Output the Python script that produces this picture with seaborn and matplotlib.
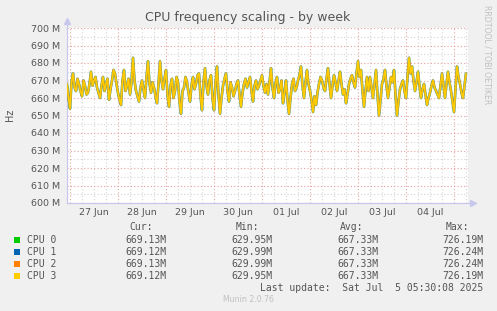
import matplotlib
matplotlib.use("Agg")
import matplotlib.pyplot as plt
import matplotlib.dates as mdates
from matplotlib.patches import Rectangle
from matplotlib.ticker import MultipleLocator
import pandas as pd
import seaborn as sns

sns.set_style("white")
plt.rcParams['font.family'] = ['DejaVu Sans']

# ---------------- data ----------------
title = "CPU frequency scaling - by week"
cpu_names = ["CPU 0", "CPU 1", "CPU 2", "CPU 3"]
cpu_colors = ["#00cc00", "#0066b3", "#ff8000", "#ffcc00"]
series_start = "2025-06-26 22:30"
series_end = "2025-07-05 06:00"
# CPU frequency in MHz (all four cores overlap)
freq_mhz = [
    668, 660, 654, 669, 674, 666, 664, 671, 668, 664, 661, 670, 667, 662, 663, 668,
    675, 667, 670, 672, 666, 663, 660, 667, 672, 664, 668, 671, 659, 665, 670, 676,
    674, 668, 663, 659, 656, 670, 676, 664, 667, 671, 662, 669, 683, 670, 664, 661,
    658, 666, 670, 665, 660, 672, 681, 668, 663, 669, 666, 661, 657, 668, 681, 670,
    665, 671, 676, 662, 655, 667, 671, 660, 664, 672, 669, 658, 651, 664, 666, 672,
    669, 663, 658, 667, 672, 665, 668, 673, 674, 661, 653, 669, 677, 667, 662, 670,
    673, 660, 653, 668, 678, 662, 651, 660, 667, 671, 674, 664, 658, 669, 666, 661,
    664, 668, 670, 662, 655, 663, 668, 671, 666, 669, 672, 664, 658, 667, 670, 665,
    667, 670, 673, 667, 663, 668,
    662, 669, 677, 666, 660, 668, 672, 663, 665, 670, 657, 663, 670, 659, 651, 660,
    668, 671, 664, 666, 670, 673, 678, 667, 660, 669, 676, 668, 664, 659, 652, 661,
    656, 663, 668, 672, 670, 666, 664, 671, 677, 668, 660, 667, 673, 669, 664, 670,
    675, 668, 662, 665, 657, 662, 668, 671, 673, 669, 666, 674, 681, 672, 676, 664,
    655, 664, 672, 664,
    672, 666, 660, 668, 676, 662, 650, 659, 668, 671, 676, 667, 660, 666, 672, 669,
    676, 662, 650, 658, 665, 668, 670, 664, 660, 672, 683, 674, 678, 670, 664, 669,
    675, 667, 660, 665, 668, 662, 656, 660, 663, 667, 670, 666, 664, 662, 660, 667,
    674, 667, 660, 668, 675, 669, 664, 658, 652, 665, 678, 672, 668, 663, 660, 667,
    674,
]
cur_vals = ["669.13M", "669.12M", "669.13M", "669.12M"]
min_vals = ["629.95M", "629.99M", "629.99M", "629.95M"]
avg_vals = ["667.33M", "667.33M", "667.33M", "667.33M"]
max_vals = ["726.19M", "726.24M", "726.24M", "726.19M"]
day_labels = ["27 Jun", "28 Jun", "29 Jun", "30 Jun", "01 Jul", "02 Jul", "03 Jul", "04 Jul"]
day_starts = ["2025-06-27", "2025-06-28", "2025-06-29", "2025-06-30",
              "2025-07-01", "2025-07-02", "2025-07-03", "2025-07-04", "2025-07-05"]
y_ticks = [600, 610, 620, 630, 640, 650, 660, 670, 680, 690, 700]
x_range = ["2025-06-26 22:30", "2025-07-05 07:00"]
last_update = "Last update:  Sat Jul  5 05:30:08 2025"
footer = "Munin 2.0.76"
side_text = "RRDTOOL / TOBI OETIKER"

# ---------------- figure ----------------
W, H = 497, 311
fig = plt.figure(figsize=(W / 100, H / 100), dpi=100, facecolor="#f0f0f0")

def fx(x):
    return x / W

def fy(y):
    return 1 - y / H

L, R, T, B = 67, 468, 28, 203
ax = fig.add_axes([fx(L), fy(B), (R - L) / W, (B - T) / H])
ax.set_facecolor("white")

times = pd.date_range(series_start, series_end, periods=len(freq_mhz))
frames = []
for name in cpu_names:
    frames.append(pd.DataFrame({"time": times, "value": freq_mhz, "cpu": name}))
df = pd.concat(frames, ignore_index=True)

widths = [1.9, 1.9, 1.6, 1.15]
alphas = [0.45, 0.45, 0.6, 1.0]
for name, col, lw, a in zip(cpu_names, cpu_colors, widths, alphas):
    sns.lineplot(data=df[df.cpu == name], x="time", y="value", color=col,
                 linewidth=lw, alpha=a, ax=ax, legend=False, zorder=3)
ax.set_xlabel("")
ax.set_ylabel("")

ax.set_xlim(pd.Timestamp(x_range[0]), pd.Timestamp(x_range[1]))
ax.set_ylim(y_ticks[0], y_ticks[-1])

# grid
ax.set_yticks(y_ticks)
ax.set_yticklabels([f"{v} M" for v in y_ticks])
ax.yaxis.set_minor_locator(MultipleLocator(5))
day_ts = [pd.Timestamp(d) for d in day_starts]
ax.set_xticks(day_ts)
ax.set_xticklabels([""] * len(day_ts))
ax.xaxis.set_minor_locator(mdates.HourLocator(byhour=[0, 6, 12, 18]))
ax.grid(which="minor", color="#d4d4d4", linestyle=(0, (1, 2)), linewidth=0.8, zorder=1)
ax.grid(which="major", color="#e8a0a0", linestyle=(0, (1, 2)), linewidth=0.8, zorder=1)
ax.set_axisbelow(True)

ax.tick_params(axis="y", which="major", length=2, color="#c8c8ee", labelsize=6.8,
               labelcolor="#555555", pad=3)
ax.tick_params(axis="y", which="minor", length=0)
ax.tick_params(axis="x", which="major", length=2, color="#e8a0a0", pad=1, direction="out")
ax.tick_params(axis="x", which="minor", length=2, color="#d4d4d4", direction="out")

for s in ["top", "right"]:
    ax.spines[s].set_visible(False)
for s in ["left", "bottom"]:
    ax.spines[s].set_color("#c8c8ee")
    ax.spines[s].set_linewidth(0.9)

# axis arrows
ax.plot([0], [1.04], marker="^", color="#c8c8ee", markersize=4, transform=ax.transAxes,
        clip_on=False)
ax.plot([0, 0], [1.0, 1.04], color="#c8c8ee", lw=0.9, transform=ax.transAxes, clip_on=False)
ax.plot([1.0, 1.01], [0, 0], color="#c8c8ee", lw=0.9, transform=ax.transAxes, clip_on=False)
ax.plot([1.012], [0], marker=">", color="#c8c8ee", markersize=4, transform=ax.transAxes,
        clip_on=False)

# day labels at noon
for lab, d in zip(day_labels, day_ts):
    ax.text(d + pd.Timedelta(hours=12), -0.055, lab, transform=ax.get_xaxis_transform(),
            ha="center", va="center", fontsize=6.8, color="#555555")

# title / labels
fig.text(fx(248), fy(18), title, ha="center", va="center", fontsize=9, color="#555555")
fig.text(fx(10), fy(115), "Hz", ha="center", va="center", rotation=90, fontsize=7,
         color="#555555")
fig.text(fx(487), fy(55), side_text, ha="center", va="center", rotation=270, fontsize=5.6,
         color="#c0c0c0")

# legend table
mono = "DejaVu Sans Mono"
tc = "#555555"
fs = 7
hy = 227
fig.text(fx(153), fy(hy), "Cur:", ha="right", va="center", family=mono, fontsize=fs, color=tc)
fig.text(fx(259), fy(hy), "Min:", ha="right", va="center", family=mono, fontsize=fs, color=tc)
fig.text(fx(363), fy(hy), "Avg:", ha="right", va="center", family=mono, fontsize=fs, color=tc)
fig.text(fx(469), fy(hy), "Max:", ha="right", va="center", family=mono, fontsize=fs, color=tc)
row_y = [240, 252, 264, 276]
for i, name in enumerate(cpu_names):
    y = row_y[i]
    fig.patches.append(Rectangle((fx(14), fy(y + 3)), 6 / W, 6 / H, transform=fig.transFigure,
                                 facecolor=cpu_colors[i], edgecolor="none"))
    fig.text(fx(27), fy(y), name, ha="left", va="center", family=mono, fontsize=fs, color=tc)
    fig.text(fx(167), fy(y), cur_vals[i], ha="right", va="center", family=mono, fontsize=fs, color=tc)
    fig.text(fx(273), fy(y), min_vals[i], ha="right", va="center", family=mono, fontsize=fs, color=tc)
    fig.text(fx(378), fy(y), avg_vals[i], ha="right", va="center", family=mono, fontsize=fs, color=tc)
    fig.text(fx(483), fy(y), max_vals[i], ha="right", va="center", family=mono, fontsize=fs, color=tc)
fig.text(fx(483), fy(288), last_update, ha="right", va="center", family=mono, fontsize=fs, color=tc)
fig.text(fx(248), fy(300), footer, ha="center", va="center", fontsize=5.6, color="#c0c0c0")

fig.savefig("out.png", dpi=100, facecolor=fig.get_facecolor())
